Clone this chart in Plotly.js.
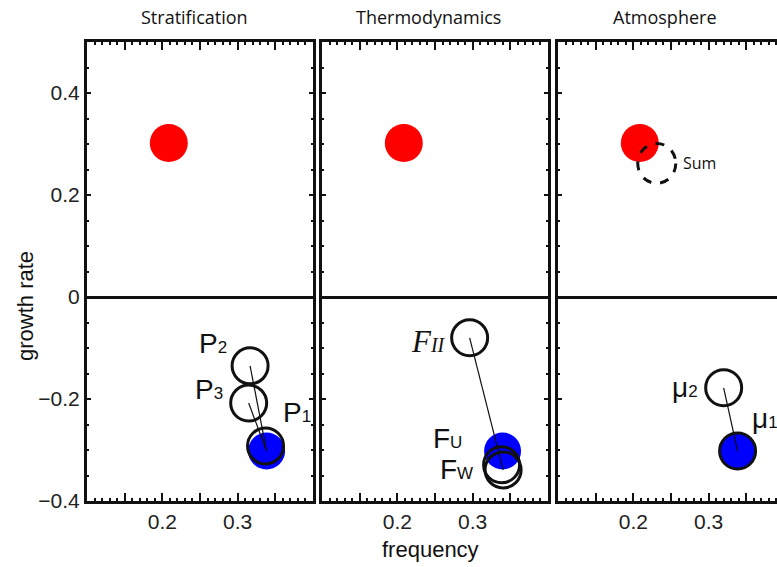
<!DOCTYPE html>
<html><head><meta charset="utf-8">
<script src="https://cdn.plot.ly/plotly-3.0.1.min.js"></script>
<style>html,body{margin:0;padding:0;overflow:hidden;background:#fff}#c{width:800px;height:567px}</style>
</head><body><div id="c"></div>
<script>
// ---------- data ----------
const panelTitles = ['Stratification', 'Thermodynamics', 'Atmosphere'];
const xTickVals = [0.15, 0.2, 0.25, 0.3, 0.35];
const xTickText = ['', '0.2', '', '0.3', ''];
const yTickVals = [-0.4, -0.2, 0, 0.2, 0.4];
const yTickText = ['\u22120.4', '\u22120.2', '0', '0.2', '0.4'];

// unstable mode (red) and damped mode (blue), one per panel
const unstableX = [0.2086, 0.2086, 0.2086];
const unstableY = [0.302, 0.302, 0.302];
const dampedX = [0.3384, 0.3397, 0.3384];
const dampedY = [-0.302, -0.302, -0.302];

// Stratification panel
const stratLabels = ['P<span style="font-size:17px">1</span>', 'P<span style="font-size:17px">2</span>', 'P<span style="font-size:17px">3</span>'];
const stratX = [0.337, 0.3165, 0.3146];
const stratY = [-0.292, -0.135, -0.208];

// Thermodynamics panel
const thermoLabels = ['<i>F</i><span style="font-size:20px"><i>II</i></span>', 'F<span style="font-size:17px">U</span>', 'F<span style="font-size:17px">W</span>'];
const thermoX = [0.296, 0.3384, 0.3404];
const thermoY = [-0.080, -0.329, -0.339];

// Atmosphere panel
const atmoLabels = ['\u03bc<span style="font-size:17px">2</span>', '\u03bc<span style="font-size:17px">1</span>'];
const atmoX = [0.3199, 0.3384];
const atmoY = [-0.178, -0.302];
const sumX = [0.2311];
const sumY = [0.262];

// ---------- layout helpers ----------
const W = 800, H = 567;
const panelPx = [[87, 313], [322, 548], [558, 784]];
const yDom = [1 - 501 / H, 1 - 42 / H];
const INK = '#111';
const tickFont = {family: 'Liberation Sans, Arial, sans-serif', size: 21, color: '#222'};

function xa(i) {
  return {
    domain: [panelPx[i][0] / W, panelPx[i][1] / W],
    anchor: i === 0 ? 'y' : 'y' + (i + 1),
    range: [0.1, 0.4], tickmode: 'array', tickvals: xTickVals, ticktext: xTickText,
    ticks: 'inside', ticklen: 8, tickwidth: 2, tickcolor: INK, mirror: 'allticks',
    showline: true, linewidth: 3, linecolor: INK, showgrid: false, zeroline: false,
    tickfont: tickFont, fixedrange: true,
    minor: {dtick: 0.01, tick0: 0, ticks: 'inside', ticklen: 3, tickwidth: 2, tickcolor: INK, showgrid: false}
  };
}
function ya(i) {
  return {
    domain: yDom, anchor: i === 0 ? 'x' : 'x' + (i + 1),
    range: [-0.4, 0.5], tickmode: 'array', tickvals: yTickVals, ticktext: yTickText,
    ticks: 'inside', ticklen: 4, tickwidth: 2, tickcolor: INK, mirror: 'allticks',
    showline: true, linewidth: 3, linecolor: INK, showgrid: false,
    zeroline: true, zerolinewidth: 3, zerolinecolor: INK,
    showticklabels: i === 0, tickfont: tickFont, fixedrange: true,
    minor: {dtick: 0.05, tick0: 0, ticks: 'inside', ticklen: 2, tickwidth: 2, tickcolor: INK, showgrid: false}
  };
}
function ax(i) { return i === 0 ? ['x', 'y'] : ['x' + (i + 1), 'y' + (i + 1)]; }

const traces = [];
for (let i = 0; i < 3; i++) {
  const [xr, yr] = ax(i);
  traces.push({type: 'scatter', mode: 'markers', x: [unstableX[i]], y: [unstableY[i]], xaxis: xr, yaxis: yr,
    marker: {color: '#ff0000', size: 38, line: {width: 0}}, hoverinfo: 'skip'});
  traces.push({type: 'scatter', mode: 'markers', x: [dampedX[i]], y: [dampedY[i]], xaxis: xr, yaxis: yr,
    marker: {color: '#0000ff', size: 37, line: {width: 0}}, hoverinfo: 'skip'});
}
// connector lines
traces.push({type: 'scatter', mode: 'lines', xaxis: 'x', yaxis: 'y',
  x: [stratX[1], dampedX[0], null, stratX[2], dampedX[0]],
  y: [stratY[1], dampedY[0], null, stratY[2], dampedY[0]],
  line: {color: INK, width: 1.2}, hoverinfo: 'skip'});
traces.push({type: 'scatter', mode: 'lines', xaxis: 'x2', yaxis: 'y2',
  x: [thermoX[0], thermoX[2]], y: [thermoY[0], thermoY[2]],
  line: {color: INK, width: 1.2}, hoverinfo: 'skip'});
traces.push({type: 'scatter', mode: 'lines', xaxis: 'x3', yaxis: 'y3',
  x: [atmoX[0], atmoX[1]], y: [atmoY[0], atmoY[1]],
  line: {color: INK, width: 1.2}, hoverinfo: 'skip'});
// open circles
const openMarker = {symbol: 'circle-open', size: 36, color: INK, line: {width: 3, color: INK}};
traces.push({type: 'scatter', mode: 'markers', xaxis: 'x', yaxis: 'y', x: stratX, y: stratY, marker: openMarker, hoverinfo: 'skip'});
traces.push({type: 'scatter', mode: 'markers', xaxis: 'x2', yaxis: 'y2', x: thermoX, y: thermoY, marker: openMarker, hoverinfo: 'skip'});
traces.push({type: 'scatter', mode: 'markers', xaxis: 'x3', yaxis: 'y3', x: atmoX, y: atmoY, marker: openMarker, hoverinfo: 'skip'});

// ---------- annotations ----------
const labFont = {family: 'Liberation Sans, Arial, sans-serif', size: 28, color: INK};
const serifFont = {family: 'Liberation Serif, Times New Roman, serif', size: 31, color: INK};
const annotations = [];
panelTitles.forEach((t, i) => {
  annotations.push({text: t, xref: 'paper', yref: 'paper', x: (panelPx[i][0] + panelPx[i][1]) / 2 / W, xshift: -6,
    y: 1 - 17 / H, xanchor: 'center', yanchor: 'middle', showarrow: false,
    font: {family: 'Open Sans, sans-serif', size: 18, color: INK}});
});
annotations.push({text: 'growth rate', xref: 'paper', yref: 'paper', x: 25 / W, y: 1 - 306 / H, textangle: -90,
  xanchor: 'center', yanchor: 'middle', showarrow: false, font: {family: 'Liberation Sans, Arial, sans-serif', size: 22, color: INK}});
annotations.push({text: 'frequency', xref: 'paper', yref: 'paper', x: 431 / W, y: 1 - 549 / H,
  xanchor: 'center', yanchor: 'middle', showarrow: false, font: {family: 'Liberation Sans, Arial, sans-serif', size: 22, color: INK}});

const stratShift = [[15, 33, 'left'], [-21, 22, 'right'], [-24, 14, 'right']];
stratLabels.forEach((t, k) => annotations.push({text: t, xref: 'x', yref: 'y', x: stratX[k], y: stratY[k],
  xanchor: stratShift[k][2], yanchor: 'middle', xshift: stratShift[k][0], yshift: stratShift[k][1], showarrow: false, font: labFont}));
const thermoShift = [[-22, -4, 'right', serifFont], [-38, 26, 'right', labFont], [-28, 0, 'right', labFont]];
thermoLabels.forEach((t, k) => annotations.push({text: t, xref: 'x2', yref: 'y2', x: thermoX[k], y: thermoY[k],
  xanchor: thermoShift[k][2], yanchor: 'middle', xshift: thermoShift[k][0], yshift: thermoShift[k][1], showarrow: false, font: thermoShift[k][3]}));
const atmoShift = [[-24, 0, 'right'], [12, 33, 'left']];
atmoLabels.forEach((t, k) => annotations.push({text: t, xref: 'x3', yref: 'y3', x: atmoX[k], y: atmoY[k],
  xanchor: atmoShift[k][2], yanchor: 'middle', xshift: atmoShift[k][0], yshift: atmoShift[k][1], showarrow: false, font: labFont}));
annotations.push({text: 'Sum', xref: 'x3', yref: 'y3', x: sumX[0], y: sumY[0], xanchor: 'left', yanchor: 'middle',
  xshift: 24, yshift: 0, showarrow: false, font: {family: 'Open Sans, sans-serif', size: 16, color: INK}});

const shapes = [{type: 'circle', xref: 'x3', yref: 'y3', xsizemode: 'pixel', ysizemode: 'pixel',
  xanchor: sumX[0], yanchor: sumY[0], x0: -19, x1: 19, y0: -20, y1: 20,
  line: {color: INK, width: 3, dash: 'dash'}}];

const layout = {
  width: W, height: H, margin: {l: 0, r: 0, t: 0, b: 0}, paper_bgcolor: '#fff', plot_bgcolor: '#fff',
  showlegend: false, annotations: annotations, shapes: shapes,
  xaxis: xa(0), yaxis: ya(0), xaxis2: xa(1), yaxis2: ya(1), xaxis3: xa(2), yaxis3: ya(2)
};
Plotly.newPlot('c', traces, layout, {displayModeBar: false, staticPlot: true});
</script></body></html>
